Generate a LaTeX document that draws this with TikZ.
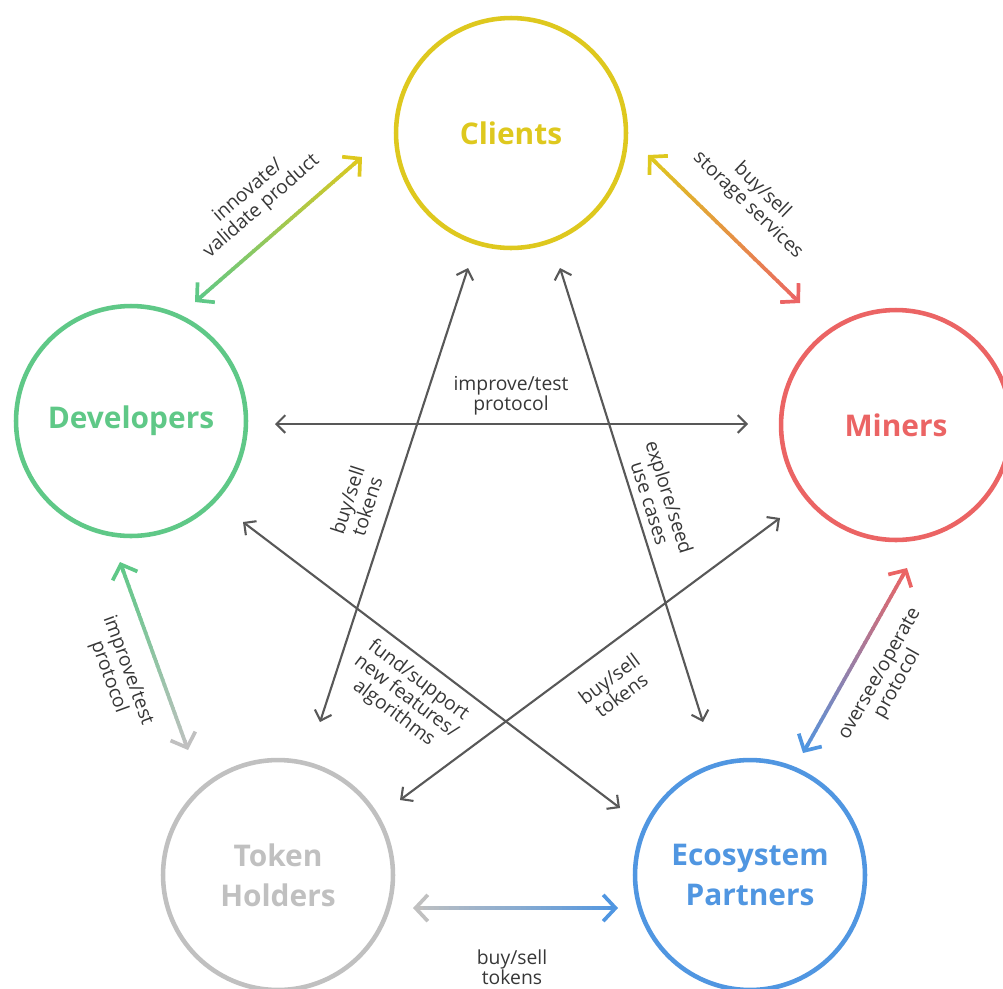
\documentclass[tikz,border=0pt]{standalone}
\usepackage{fontspec}
\setmainfont{Open Sans}
\usetikzlibrary{arrows.meta,calc}

\definecolor{cliyellow}{RGB}{222,200,30}
\definecolor{devgreen}{RGB}{95,200,135}
\definecolor{minred}{RGB}{235,100,100}
\definecolor{tokgray}{RGB}{192,192,192}
\definecolor{ecoblue}{RGB}{80,150,225}
\definecolor{linkgray}{RGB}{88,88,88}
\definecolor{labgray}{RGB}{55,55,55}

\tikzset{
  actor/.style={circle, draw=#1, line width=2.6pt, minimum size=4.6cm, inner sep=0pt,
    text=#1, font=\fontsize{17}{23}\selectfont\bfseries, align=center},
  lab/.style={font=\fontsize{11}{11.6}\selectfont, text=labgray, align=center, inner sep=0pt},
  link/.style={draw=linkgray, line width=1.2pt,
    {Straight Barb[length=5pt,width=10pt]}-{Straight Barb[length=5pt,width=10pt]}},
  glink/.style={line width=2.1pt},
  gtip/.style={-{Straight Barb[length=7pt,width=15pt]}},
}

% two-colour connector: #3 at end #1, #4 at end #2
\newcommand\gradlink[4]{%
  \foreach \k in {1,...,38}{%
    \pgfmathsetmacro\ta{\k/40}%
    \pgfmathsetmacro\tb{(\k+1.2)/40}%
    \pgfmathtruncatemacro\mx{100-2.5*\k}%
    \draw[glink, color=#3!\mx!#4] ($(#1)!\ta!(#2)$) -- ($(#1)!\tb!(#2)$);
  }
  \draw[glink, gtip, color=#3] ($(#1)!0.05!(#2)$) -- (#1);
  \draw[glink, gtip, color=#4] ($(#1)!0.95!(#2)$) -- (#2);
}

\begin{document}
\begin{tikzpicture}[x=0.02cm, y=-0.02cm]
\useasboundingbox (0,0) rectangle (1003,988);

% the five actors
\node[actor=cliyellow] (cli) at (511,133) {Clients};
\node[actor=devgreen] (dev) at (131,421) {Developers};
\node[actor=minred] (min) at (896,425) {Miners};
\node[actor=tokgray] (tok) at (278,875) {Token\\Holders};
\node[actor=ecoblue] (eco) at (750,875) {Ecosystem\\Partners};

% ends of the outer connectors
\coordinate (devcli-a) at ($(dev)+(64,-119)$);
\coordinate (devcli-b) at ($(cli)+(-149,24)$);
\coordinate (climin-a) at ($(cli)+(137,22)$);
\coordinate (climin-b) at ($(min)+(-96,-122)$);
\coordinate (devtok-a) at ($(dev)+(-11,141)$);
\coordinate (devtok-b) at ($(tok)+(-90,-125)$);
\coordinate (mineco-a) at ($(min)+(11,143)$);
\coordinate (mineco-b) at ($(eco)+(53,-122)$);
\coordinate (tokeco-a) at ($(tok)+(135,33)$);
\coordinate (tokeco-b) at ($(eco)+(-132,33)$);

\gradlink{devcli-a}{devcli-b}{devgreen}{cliyellow}
\gradlink{climin-a}{climin-b}{cliyellow}{minred}
\gradlink{devtok-a}{devtok-b}{devgreen}{tokgray}
\gradlink{mineco-a}{mineco-b}{minred}{ecoblue}
\gradlink{tokeco-a}{tokeco-b}{tokgray}{ecoblue}

% inner connectors
\draw[link] ($(dev)+(144,3)$) -- ($(min)+(-148,-1)$);
\draw[link] ($(cli)+(-43,135)$) -- ($(tok)+(42,-153)$);
\draw[link] ($(cli)+(49,135)$) -- ($(eco)+(-47,-153)$);
\draw[link] ($(dev)+(112,101)$) -- ($(eco)+(-130,-67)$);
\draw[link] ($(min)+(-116,93)$) -- ($(tok)+(122,-75)$);

% labels
\node[lab, rotate=41] (l-devcli) at (255,199) {innovate/\\validate product};
\node[lab, rotate=-44] (l-climin) at (755,198) {buy/sell\\storage services};
\node[lab] (l-devmin) at (511,396) {improve/test\\protocol};
\node[lab, rotate=72] (l-clitok) at (357,503) {buy/sell\\tokens};
\node[lab, rotate=-72.5] (l-clieco) at (660,500) {explore/seed\\use cases};
\node[lab, rotate=-70] (l-devtok) at (118,674) {improve/test\\protocol};
\node[lab, rotate=60.6] (l-mineco) at (889,679) {oversee/operate\\protocol};
\node[lab, rotate=-37] (l-deveco) at (406,697) {fund/support\\new features/\\algorithms};
\node[lab, rotate=36.6] (l-mintok) at (615,687) {buy/sell\\tokens};
\node[lab] (l-tokeco) at (512,967) {buy/sell\\tokens};
\end{tikzpicture}
\end{document}
